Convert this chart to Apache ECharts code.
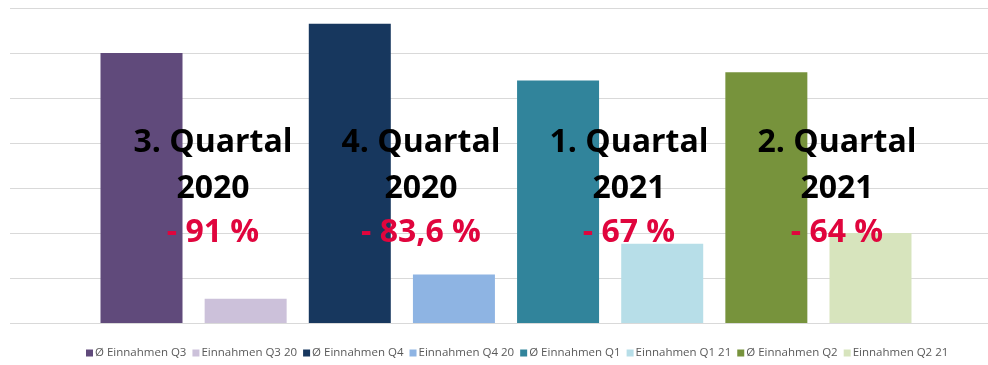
<!DOCTYPE html>
<html>
<head>
<meta charset="utf-8">
<script src="https://cdn.jsdelivr.net/npm/echarts@6/dist/echarts.min.js"></script>
<style>
html,body{margin:0;padding:0;background:#fff;}
#c{width:988px;height:365px;}
</style>
</head>
<body>
<div id="c"></div>
<script>
const seriesNames = ['Ø Einnahmen Q3','Einnahmen Q3 20','Ø Einnahmen Q4','Einnahmen Q4 20','Ø Einnahmen Q1','Einnahmen Q1 21','Ø Einnahmen Q2','Einnahmen Q2 21'];
const seriesValues = [6.0, 0.54, 6.65, 1.08, 5.39, 1.76, 5.57, 2.0];
const seriesColors = ['#604A7B','#CCC1DA','#17375E','#8EB4E3','#31849B','#B7DEE8','#77933C','#D7E4BD'];
const categories = [''];
const annoTitles = ['3. Quartal','4. Quartal','1. Quartal','2. Quartal'];
const annoYears = ['2020','2020','2021','2021'];
const annoChanges = ['- 91 %','- 83,6 %','- 67 %','- 64 %'];
const annoX = [213, 421, 629, 837];

const chart = echarts.init(document.getElementById('c'));
const series = seriesNames.map((n, i) => ({
  name: n,
  type: 'bar',
  xAxisIndex: 1, yAxisIndex: 1,
  data: [seriesValues[i]],
  barWidth: 82,
  barGap: '27%',
  itemStyle: { color: seriesColors[i] },
  emphasis: { disabled: true }
}));

const graphics = [];
const font = 'bold 32px "Open Sans"';
annoX.forEach((x, i) => {
  graphics.push({ type: 'text', z: 100, style: { x: x, y: 143, text: annoTitles[i], fill: '#000', font: font, textAlign: 'center', textVerticalAlign: 'middle' } });
  graphics.push({ type: 'text', z: 100, style: { x: x, y: 189, text: annoYears[i], fill: '#000', font: font, textAlign: 'center', textVerticalAlign: 'middle' } });
  graphics.push({ type: 'text', z: 100, style: { x: x, y: 233, text: annoChanges[i], fill: '#E0053D', font: font, textAlign: 'center', textVerticalAlign: 'middle' } });
});

const hiddenAxis = { axisLine: { show: false }, axisTick: { show: false }, axisLabel: { show: false } };

chart.setOption({
  animation: false,
  backgroundColor: '#fff',
  grid: [
    { left: 10, right: 0, top: 8, bottom: 42 },
    { left: 24, right: 0, top: 8, bottom: 42 }
  ],
  xAxis: [
    Object.assign({ type: 'category', data: categories, gridIndex: 0 }, hiddenAxis),
    Object.assign({ type: 'category', data: categories, gridIndex: 1 }, hiddenAxis)
  ],
  yAxis: [
    Object.assign({ type: 'value', min: 0, max: 7, interval: 1, gridIndex: 0,
      splitLine: { lineStyle: { color: '#D9D9D9', width: 1 } } }, hiddenAxis),
    Object.assign({ type: 'value', min: 0, max: 7, interval: 1, gridIndex: 1,
      splitLine: { show: false } }, hiddenAxis)
  ],
  legend: {
    left: 86, bottom: 6, padding: 0,
    itemWidth: 7, itemHeight: 7, itemGap: 6,
    icon: 'rect',
    textStyle: { color: '#595959', fontSize: 11.5, fontFamily: 'Open Sans', padding: [0,0,0,-3] },
    data: seriesNames
  },
  series: series,
  graphic: graphics
});
</script>
</body>
</html>
